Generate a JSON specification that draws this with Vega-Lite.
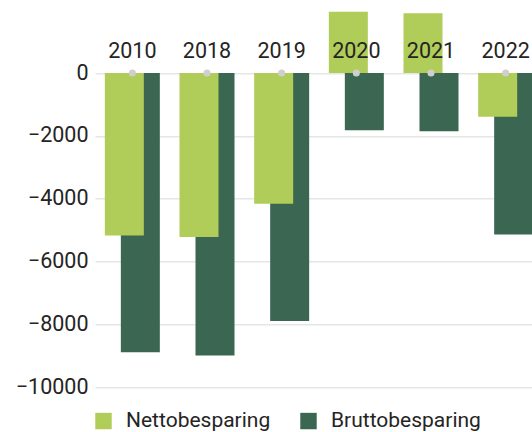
{
  "$schema": "https://vega.github.io/schema/vega-lite/v6.json",
  "autosize": {"type": "none"},
  "width": 437,
  "height": 376.7,
  "padding": {"left": 95, "top": 10.3, "right": 0, "bottom": 45},
  "config": {
    "view": {"stroke": null},
    "font": "Roboto",
    "text": {"font": "Roboto"}
  },
  "data": {
    "values": [
      {"year": "2010", "type": "Nettobesparing", "value": -5170},
      {"year": "2018", "type": "Nettobesparing", "value": -5220},
      {"year": "2019", "type": "Nettobesparing", "value": -4160},
      {"year": "2020", "type": "Nettobesparing", "value": 1950},
      {"year": "2021", "type": "Nettobesparing", "value": 1910},
      {"year": "2022", "type": "Nettobesparing", "value": -1390},
      {"year": "2010", "type": "Bruttobesparing", "value": -8890},
      {"year": "2018", "type": "Bruttobesparing", "value": -9000},
      {"year": "2019", "type": "Bruttobesparing", "value": -7900},
      {"year": "2020", "type": "Bruttobesparing", "value": -1820},
      {"year": "2021", "type": "Bruttobesparing", "value": -1850},
      {"year": "2022", "type": "Bruttobesparing", "value": -5140}
    ]
  },
  "encoding": {
    "x": {
      "field": "year",
      "type": "nominal",
      "scale": {"range": [0, 448], "paddingInner": 0, "paddingOuter": 0},
      "axis": null
    }
  },
  "layer": [
    {
      "transform": [{"filter": "datum.type === 'Bruttobesparing'"}],
      "mark": {"type": "bar", "width": 39, "xOffset": 8, "clip": true},
      "encoding": {
        "y": {
          "field": "value",
          "type": "quantitative",
          "scale": {"domain": [-10000, 2000], "nice": false},
          "axis": {
            "title": null,
            "values": [0, -2000, -4000, -6000, -8000, -10000],
            "format": "d",
            "domain": false,
            "ticks": false,
            "labelFontSize": 21.5,
            "labelColor": "#252423",
            "labelPadding": 7,
            "gridColor": "#e6e6e6",
            "gridWidth": 1.5,
            "labelFont": "Roboto"
          }
        },
        "color": {
          "field": "type",
          "type": "nominal",
          "scale": {"domain": ["Nettobesparing", "Bruttobesparing"], "range": ["#b0cc59", "#3b6652"]},
          "legend": {
            "title": null,
            "orient": "none",
            "direction": "horizontal",
            "legendX": -2,
            "legendY": 400,
            "symbolType": "square",
            "symbolSize": 270,
            "symbolStrokeWidth": 0,
            "symbolOpacity": 1,
            "labelFontSize": 21,
            "labelColor": "#252423",
            "labelFont": "Roboto",
            "labelOffset": 12,
            "columnPadding": 27
          }
        }
      }
    },
    {
      "transform": [{"filter": "datum.type === 'Nettobesparing'"}],
      "mark": {"type": "bar", "width": 39, "xOffset": -8, "clip": true},
      "encoding": {
        "y": {"field": "value", "type": "quantitative"},
        "color": {"field": "type", "type": "nominal"}
      }
    },
    {
      "transform": [{"filter": "datum.type === 'Nettobesparing'"}],
      "mark": {"type": "point", "filled": true, "size": 50, "color": "#cfcfcf", "opacity": 1},
      "encoding": {
        "y": {"datum": 0}
      }
    },
    {
      "transform": [{"filter": "datum.type === 'Nettobesparing'"}],
      "mark": {"type": "text", "fontSize": 21.5, "dy": -21, "baseline": "middle", "color": "#252423", "font": "Roboto"},
      "encoding": {
        "y": {"datum": 0},
        "text": {"field": "year"}
      }
    }
  ]
}
